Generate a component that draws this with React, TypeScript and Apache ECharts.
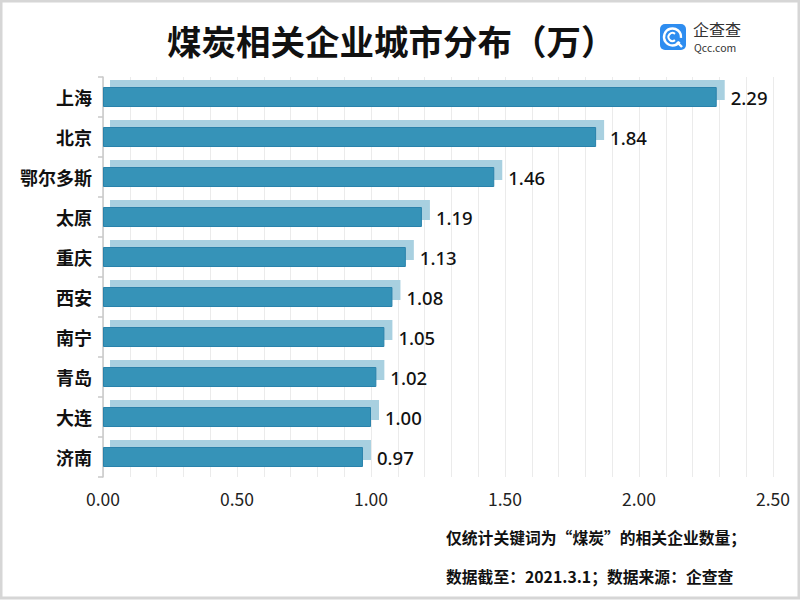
import React, { useEffect, useRef } from "react";
import * as echarts from "echarts";

const cities = ["上海", "北京", "鄂尔多斯", "太原", "重庆", "西安", "南宁", "青岛", "大连", "济南"];
const counts = [2.29, 1.84, 1.46, 1.19, 1.13, 1.08, 1.05, 1.02, 1.0, 0.97];
const titleText = "煤炭相关企业城市分布（万）";
const noteLines = ["仅统计关键词为“煤炭”的相关企业数量；", "数据截至：2021.3.1；数据来源：企查查"];

const FONT = "'Noto Sans CJK SC', 'Noto Sans', sans-serif";
const NUMFONT = "'Noto Sans', 'Noto Sans CJK SC', sans-serif";

export default function App() {
  const ref = useRef<HTMLDivElement>(null);
  useEffect(() => {
    document.body.style.margin = "0";
    const chart = echarts.init(ref.current!, null, { renderer: "svg" });
    const shadowData = counts.map((v, i) => [v, i]);
    chart.setOption({
      animation: false,
      backgroundColor: "#ffffff",
      textStyle: { fontFamily: FONT },
      title: {
        text: titleText,
        left: 162,
        top: 18,
        textStyle: { fontSize: 34.5, fontWeight: "bold", color: "#111", fontFamily: FONT },
      },
      grid: { left: 103, right: 27, top: 77, bottom: 123 },
      xAxis: {
        type: "value",
        min: 0,
        max: 2.5,
        interval: 0.5,
        axisLine: { show: false },
        axisTick: { show: false },
        axisLabel: {
          fontSize: 17.5,
          color: "#222",
          margin: 13,
          fontFamily: FONT,
          formatter: (v: number) => v.toFixed(2),
        },
        splitLine: { show: true, lineStyle: { color: "#ebebeb", width: 1 } },
        minorTick: { show: false, splitNumber: 5 },
        minorSplitLine: { show: true, lineStyle: { color: "#ebebeb", width: 1 } },
      },
      yAxis: {
        type: "category",
        data: cities,
        inverse: true,
        axisLine: { show: true, lineStyle: { color: "#c8c8c8", width: 1.5 } },
        axisTick: { show: true, length: 5, lineStyle: { color: "#c8c8c8", width: 1.5 } },
        axisLabel: { fontSize: 18, fontWeight: "bold", color: "#111", margin: 11, fontFamily: FONT },
      },
      series: [
        {
          type: "custom",
          z: 1,
          data: shadowData,
          encode: { x: 0, y: 1 },
          renderItem: (params: any, api: any) => {
            const v = api.value(0);
            const idx = api.value(1);
            const start = api.coord([0, idx]);
            const end = api.coord([v, idx]);
            return {
              type: "rect",
              shape: { x: start[0] + 7, y: start[1] - 17, width: end[0] - start[0] + 1, height: 20 },
              style: { fill: "#a8d0e0" },
            };
          },
          silent: true,
        },
        {
          type: "bar",
          z: 2,
          data: counts,
          barWidth: 20,
          itemStyle: { color: "#3693b8", borderColor: "#2a82ab", borderWidth: 1 },
          label: {
            show: true,
            position: "right",
            distance: 14,
            fontSize: 18.5,
            fontWeight: 500,
            color: "#111",
            fontFamily: NUMFONT,
            formatter: (p: any) => Number(p.value).toFixed(2),
          },
        },
      ],
      graphic: [
        {
          type: "rect",
          shape: { x: 1, y: 1, width: 798, height: 597 },
          style: { fill: "none", stroke: "#d6d6d6", lineWidth: 3 },
          silent: true,
        },
        {
          type: "rect",
          shape: { x: 660, y: 24, width: 26, height: 26, r: 5 },
          style: { fill: "#2e8df0" },
        },
        {
          type: "arc",
          shape: { cx: 672.5, cy: 37, r: 8.5, startAngle: 0.6, endAngle: Math.PI * 2 + 0.1 },
          style: { stroke: "#fff", lineWidth: 2.4, fill: "none" },
        },
        {
          type: "arc",
          shape: { cx: 672.5, cy: 37, r: 4, startAngle: 0.9, endAngle: Math.PI * 2 - 0.9 },
          style: { stroke: "#fff", lineWidth: 2, fill: "none" },
        },
        {
          type: "line",
          shape: { x1: 677, y1: 42, x2: 682, y2: 47 },
          style: { stroke: "#fff", lineWidth: 2.4 },
        },
        {
          type: "text",
          x: 693,
          y: 29,
          style: { text: "企查查", fontSize: 16, fill: "#333", fontFamily: FONT, letterSpacing: 2, verticalAlign: "middle" },
        },
        {
          type: "text",
          x: 694,
          y: 47.5,
          style: { text: "Qcc.com", fontSize: 10.5, fill: "#333", fontFamily: FONT, letterSpacing: 1.6, verticalAlign: "middle" },
        },
        {
          type: "text",
          x: 446,
          y: 537,
          style: { text: noteLines[0], fontSize: 15.8, fontWeight: "bold", fill: "#111", fontFamily: FONT, verticalAlign: "middle" },
        },
        {
          type: "text",
          x: 446,
          y: 576,
          style: { text: noteLines[1], fontSize: 15.8, fontWeight: "bold", fill: "#111", fontFamily: FONT, verticalAlign: "middle" },
        },
      ],
    });
    return () => chart.dispose();
  }, []);
  return <div ref={ref} style={{ position: "absolute", left: 0, top: 0, width: 800, height: 600 }} />;
}
